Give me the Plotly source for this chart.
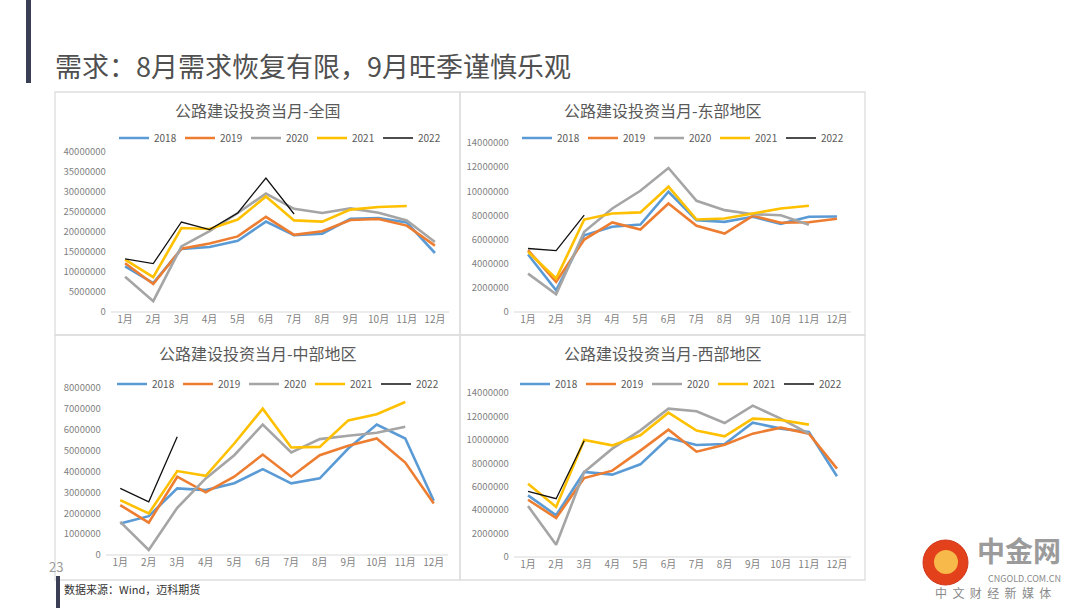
import plotly.graph_objects as go

W, H = 1080, 608

months = ["1月", "2月", "3月", "4月", "5月", "6月", "7月", "8月", "9月", "10月", "11月", "12月"]
years = ["2018", "2019", "2020", "2021", "2022"]
colors = {"2018": "#5B9BD5", "2019": "#ED7D31", "2020": "#A5A5A5", "2021": "#FFC000", "2022": "#111111"}
widths = {"2018": 2.6, "2019": 2.6, "2020": 2.6, "2021": 2.6, "2022": 1.3}

# 全国 (元)
nat_2018 = [11400000, 7250000, 15750000, 16250000, 17800000, 22600000, 19200000, 19600000, 23300000, 23500000, 22400000, 14750000]
nat_2019 = [12200000, 7000000, 15800000, 17100000, 18900000, 23800000, 19300000, 20200000, 23000000, 23250000, 21600000, 16600000]
nat_2020 = [8800000, 2700000, 16400000, 20200000, 24750000, 29600000, 25800000, 24750000, 25900000, 24800000, 22900000, 17500000]
nat_2021 = [13100000, 8700000, 21000000, 20750000, 23100000, 28900000, 22900000, 22600000, 25600000, 26250000, 26500000, None]
nat_2022 = [13300000, 12100000, 22500000, 20600000, 24750000, 33500000, 24500000, None, None, None, None, None]

# 东部地区
east_2018 = [4760000, 1800000, 6360000, 7060000, 7250000, 9960000, 7600000, 7470000, 7890000, 7300000, 7890000, 7910000]
east_2019 = [5120000, 2490000, 6000000, 7420000, 6830000, 8990000, 7140000, 6500000, 7970000, 7390000, 7440000, 7720000]
east_2020 = [3180000, 1470000, 6640000, 8580000, 10040000, 11930000, 9210000, 8440000, 8100000, 8020000, 7220000, None]
east_2021 = [4980000, 2770000, 7660000, 8160000, 8250000, 10380000, 7660000, 7750000, 8160000, 8580000, 8800000, None]
east_2022 = [5260000, 5090000, 8020000, None, None, None, None, None, None, None, None, None]

# 中部地区
mid_2018 = [1510000, 1860000, 3190000, 3110000, 3440000, 4110000, 3430000, 3670000, 5100000, 6250000, 5580000, 2600000]
mid_2019 = [2390000, 1550000, 3750000, 3000000, 3750000, 4810000, 3750000, 4780000, 5230000, 5580000, 4430000, 2470000]
mid_2020 = [1590000, 240000, 2260000, 3670000, 4780000, 6250000, 4910000, 5550000, 5710000, 5860000, 6140000, None]
mid_2021 = [2630000, 1990000, 4020000, 3790000, 5340000, 7010000, 5150000, 5180000, 6450000, 6740000, 7330000, None]
mid_2022 = [3190000, 2550000, 5660000, None, None, None, None, None, None, None, None, None]

# 西部地区
west_2018 = [5260000, 3560000, 7260000, 7030000, 7910000, 10160000, 9560000, 9650000, 11470000, 10960000, 10670000, 6890000]
west_2019 = [4890000, 3330000, 6740000, 7370000, 9080000, 10870000, 8990000, 9590000, 10530000, 11040000, 10530000, 7540000]
west_2020 = [4350000, 1050000, 7260000, 9250000, 10810000, 12660000, 12440000, 11440000, 12920000, 11810000, 10530000, None]
west_2021 = [6260000, 4270000, 9990000, 9530000, 10390000, 12320000, 10790000, 10300000, 11810000, 11700000, 11300000, None]
west_2022 = [5610000, 4980000, 9930000, None, None, None, None, None, None, None, None, None]

panel_titles = ["公路建设投资当月-全国", "公路建设投资当月-东部地区", "公路建设投资当月-中部地区", "公路建设投资当月-西部地区"]
panel_data = [
    [nat_2018, nat_2019, nat_2020, nat_2021, nat_2022],
    [east_2018, east_2019, east_2020, east_2021, east_2022],
    [mid_2018, mid_2019, mid_2020, mid_2021, mid_2022],
    [west_2018, west_2019, west_2020, west_2021, west_2022],
]
y_max = [40000000, 14000000, 8000000, 14000000]
y_dtick = [5000000, 2000000, 1000000, 2000000]

# pixel geometry of each panel: (x_left, x_right, y_zero, y_top) for the plot area
plot_px = [
    (111, 449, 312, 152),
    (514, 851, 312, 143),
    (106, 448, 555, 388),
    (514, 851, 557, 393),
]
panel_box = [(55, 460, 92, 335), (460, 865, 92, 335), (55, 460, 335, 580), (460, 865, 335, 580)]
legend_px = [(114, 138), (517, 138), (112, 384), (515, 384)]

def px2x(p):
    return p / W

def px2y(p):
    return 1 - p / H

FONT = "Noto Sans CJK SC, Noto Sans, sans-serif"
TICK_COLOR = "#7f7f7f"

fig = go.Figure()
layout = dict(
    template="none",
    width=W, height=H, autosize=False,
    margin=dict(l=0, r=0, t=0, b=0, pad=0, autoexpand=False),
    paper_bgcolor="white", plot_bgcolor="rgba(0,0,0,0)",
    font=dict(family=FONT, color=TICK_COLOR),
    showlegend=True,
    shapes=[], annotations=[],
)

for i in range(4):
    ax = "" if i == 0 else str(i + 1)
    xl, xr, y0, yt = plot_px[i]
    leg = "legend" if i == 0 else "legend%d" % (i + 1)
    for j, yr in enumerate(years):
        fig.add_trace(go.Scatter(
            x=months, y=panel_data[i][j], name=yr, mode="lines",
            line=dict(color=colors[yr], width=widths[yr]),
            xaxis="x" + ax, yaxis="y" + ax, legend=leg,
            connectgaps=False, hoverinfo="skip",
        ))
    layout["xaxis" + ax] = dict(
        domain=[px2x(xl), px2x(xr)], anchor="y" + ax,
        type="category", range=[-0.5, 11.5], automargin=False,
        showgrid=False, zeroline=False, showline=False,
        ticks="", tickfont=dict(size=10, color=TICK_COLOR, family=FONT),
        fixedrange=True,
    )
    layout["yaxis" + ax] = dict(
        domain=[px2y(y0), px2y(yt)], anchor="x" + ax,
        range=[0, y_max[i]], dtick=y_dtick[i], tick0=0, automargin=False,
        showgrid=False, zeroline=False, showline=False,
        ticks="", tickformat="d", ticksuffix="  ",
        tickfont=dict(size=9.5, color=TICK_COLOR, family=FONT),
        fixedrange=True,
    )
    # x-axis baseline
    layout["shapes"].append(dict(
        type="line", xref="paper", yref="paper",
        x0=px2x(xl), x1=px2x(xr), y0=px2y(y0), y1=px2y(y0),
        line=dict(color="#d9d9d9", width=1),
    ))
    # panel border
    bx0, bx1, by0, by1 = panel_box[i]
    layout["shapes"].append(dict(
        type="rect", xref="paper", yref="paper",
        x0=px2x(bx0), x1=px2x(bx1), y0=px2y(by1), y1=px2y(by0),
        line=dict(color="#dedede", width=1.3), layer="below",
    ))
    # panel title
    layout["annotations"].append(dict(
        text=panel_titles[i], xref="paper", yref="paper",
        x=px2x((bx0 + bx1) / 2), y=px2y(by0 + 18), xanchor="center", yanchor="middle",
        showarrow=False, font=dict(size=16, color="#595959", family=FONT),
    ))
    lx, ly = legend_px[i]
    layout[leg] = dict(
        orientation="h", x=px2x(lx), y=px2y(ly), xanchor="left", yanchor="middle",
        xref="paper", yref="paper",
        bgcolor="rgba(0,0,0,0)", borderwidth=0,
        font=dict(size=10, color="#595959", family=FONT),
        entrywidth=21, entrywidthmode="pixels", itemwidth=30,
        tracegroupgap=0, itemclick=False, itemdoubleclick=False,
    )

# page decoration
layout["shapes"] += [
    dict(type="rect", xref="paper", yref="paper", x0=px2x(26), x1=px2x(31), y0=px2y(83), y1=px2y(0),
         fillcolor="#3b3f55", line=dict(width=0)),
    dict(type="rect", xref="paper", yref="paper", x0=px2x(56), x1=px2x(60), y0=px2y(608), y1=px2y(576),
         fillcolor="#3b3f55", line=dict(width=0)),
    # logo circle
    dict(type="circle", xref="paper", yref="paper", x0=px2x(923), x1=px2x(968), y0=px2y(585), y1=px2y(540),
         fillcolor="#e2411c", line=dict(color="#d0361a", width=1)),
    dict(type="circle", xref="paper", yref="paper", x0=px2x(934), x1=px2x(958), y0=px2y(574), y1=px2y(550),
         fillcolor="#f6b94a", line=dict(width=0)),
]
layout["annotations"] += [
    dict(text="需求：8月需求恢复有限，9月旺季谨慎乐观", xref="paper", yref="paper",
         x=px2x(53), y=px2y(66), xanchor="left", yanchor="middle", showarrow=False,
         font=dict(size=27, color="#505050", family=FONT)),
    dict(text="23", xref="paper", yref="paper", x=px2x(56), y=px2y(566), xanchor="center", yanchor="middle",
         showarrow=False, font=dict(size=13, color="#9a9a9a", family=FONT)),
    dict(text="数据来源：Wind，迈科期货", xref="paper", yref="paper", x=px2x(62), y=px2y(589),
         xanchor="left", yanchor="middle", showarrow=False,
         font=dict(size=11, color="#333333", family=FONT)),
    dict(text="<b>中金网</b>", xref="paper", yref="paper", x=px2x(1019), y=px2y(550), xanchor="center",
         yanchor="middle", showarrow=False, font=dict(size=28, color="#9b9b9b", family=FONT)),
    dict(text="CNGOLD.COM.CN", xref="paper", yref="paper", x=px2x(1024), y=px2y(578), xanchor="center",
         yanchor="middle", showarrow=False, font=dict(size=9, color="#8a8a8a", family=FONT)),
    dict(text="中&nbsp;&nbsp;文&nbsp;&nbsp;财&nbsp;&nbsp;经&nbsp;&nbsp;新&nbsp;&nbsp;媒&nbsp;&nbsp;体",
         xref="paper", yref="paper", x=px2x(993), y=px2y(592), xanchor="center",
         yanchor="middle", showarrow=False, font=dict(size=12, color="#8a8a8a", family=FONT)),
]

fig.update_layout(**layout)
fig.write_html(
    "out.html",
    config={"displayModeBar": False, "responsive": False, "staticPlot": True},
    post_script=(
        "var gd=document.getElementById('{plot_id}');"
        "gd.style.position='fixed';gd.style.top='0px';gd.style.left='0px';"
        "document.body.style.margin='0';document.body.style.padding='0';"
        "document.documentElement.style.overflow='hidden';document.body.style.overflow='hidden';"
    ),
)
